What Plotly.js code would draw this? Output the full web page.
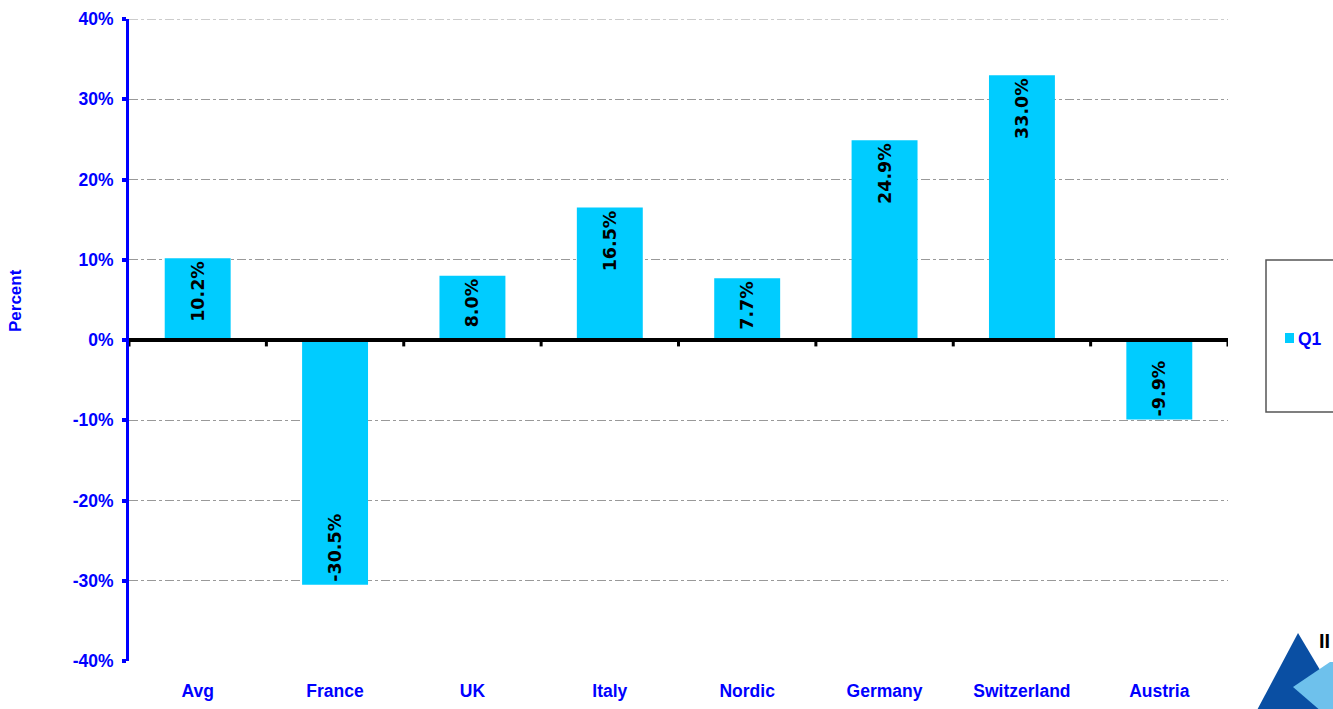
<!DOCTYPE html>
<html>
<head>
<meta charset="utf-8">
<script src="https://cdn.plot.ly/plotly-3.0.1.min.js"></script>
<style>html,body{margin:0;padding:0;background:#fff;}#chart{width:1333px;height:709px;}</style>
</head>
<body>
<div id="chart"></div>
<script>
const categories = ["Avg", "France", "UK", "Italy", "Nordic", "Germany", "Switzerland", "Austria"];
const q1Values = [10.2, -30.5, 8.0, 16.5, 7.7, 24.9, 33.0, -9.9];
const yTickValues = [-40, -30, -20, -10, 0, 10, 20, 30, 40];
const yTickLabels = ["-40%", "-30%", "-20%", "-10%", "0%", "10%", "20%", "30%", "40%"];
const seriesName = "Q1";

const W = 1333, H = 709;
const L = 129, R = 1228, T = 19, B = 661;
const px = x => (x - L) / (R - L);
const py = y => (B - y) / (B - T);
const FONT = "Liberation Sans, Arial, sans-serif";
const WIDEFONT = "DejaVu Sans, Verdana, sans-serif";
const BLUE = "#0000FF";

const shapes = [];
// top gridline (range edge)
shapes.push({type: "line", xref: "paper", yref: "y", x0: 0, x1: 1, y0: 40, y1: 40,
  line: {color: "#999", width: 1, dash: "dashdot"}, layer: "below"});
// zero line
shapes.push({type: "line", xref: "paper", yref: "y", x0: 0, x1: 1, y0: 0, y1: 0,
  line: {color: "#000", width: 4}, layer: "above"});
// category boundary ticks on the zero line
for (let i = 0; i <= categories.length; i++) {
  shapes.push({type: "line", xref: "x", yref: "y", x0: i - 0.5, x1: i - 0.5, y0: 0, y1: -0.8,
    line: {color: "#000", width: 3}, layer: "above"});
}
// legend box (cut off at right edge)
shapes.push({type: "rect", xref: "paper", yref: "paper",
  x0: px(1266), x1: px(1345), y0: py(412), y1: py(260),
  line: {color: "#555", width: 1.5}, fillcolor: "rgba(0,0,0,0)"});
// legend swatch
shapes.push({type: "rect", xref: "paper", yref: "paper",
  x0: px(1285), x1: px(1294), y0: py(343), y1: py(333),
  line: {width: 0}, fillcolor: "#00CCFF"});
// logo
shapes.push({type: "path", xref: "paper", yref: "paper",
  path: `M ${px(1298)} ${py(633)} L ${px(1256)} ${py(712)} L ${px(1345)} ${py(712)} Z`,
  fillcolor: "#0A4FA3", line: {width: 0}});
shapes.push({type: "path", xref: "paper", yref: "paper",
  path: `M ${px(1293)} ${py(687)} L ${px(1330)} ${py(662)} L ${px(1345)} ${py(662)} L ${px(1345)} ${py(712)} L ${px(1322)} ${py(712)} Z`,
  fillcolor: "#6EC1EC", line: {width: 0}});

const trace = {
  type: "bar",
  name: seriesName,
  x: categories,
  y: q1Values,
  marker: {color: "#00CCFF", line: {width: 0}},
  width: 0.48,
  text: q1Values.map(v => v.toFixed(1) + "%"),
  textposition: "inside",
  insidetextanchor: "end",
  textangle: -90,
  textfont: {family: WIDEFONT, size: 17.5, color: "#000", weight: "bold"},
  constraintext: "none",
  hoverinfo: "x+y",
  showlegend: false
};

const layout = {
  width: W, height: H,
  paper_bgcolor: "#fff", plot_bgcolor: "#fff",
  margin: {l: L, r: W - R, t: T, b: H - B, pad: 0},
  showlegend: false,
  xaxis: {
    type: "category", range: [-0.5, categories.length - 0.5],
    showgrid: false, zeroline: false, showline: false, ticks: "",
    tickfont: {family: FONT, size: 17.5, color: BLUE, weight: "bold"},
    ticklabelstandoff: 17, fixedrange: true
  },
  yaxis: {
    range: [-40, 40], tickvals: yTickValues, ticktext: yTickLabels,
    showgrid: true, gridcolor: "#999", griddash: "dashdot", gridwidth: 1,
    zeroline: false, showline: true, linecolor: BLUE, linewidth: 3,
    ticks: "outside", ticklen: 4, tickwidth: 4, tickcolor: BLUE,
    tickfont: {family: FONT, size: 17.5, color: BLUE, weight: "bold"},
    ticklabelstandoff: 5,
    fixedrange: true
  },
  shapes: shapes,
  annotations: [
    {xref: "paper", yref: "paper", x: px(1296), y: py(339), xanchor: "left", yanchor: "middle",
      text: seriesName, showarrow: false, font: {family: FONT, size: 17.5, color: BLUE, weight: "bold"}},
    {xref: "paper", yref: "paper", x: px(15), y: py(300), xanchor: "center", yanchor: "middle",
      text: "Percent", textangle: -90, showarrow: false,
      font: {family: FONT, size: 17, color: BLUE, weight: "bold"}},
    {xref: "paper", yref: "paper", x: px(1317), y: py(641), xanchor: "left", yanchor: "middle",
      text: "II", showarrow: false, font: {family: FONT, size: 20, color: "#000", weight: "bold"}}
  ]
};

Plotly.newPlot("chart", [trace], layout, {displayModeBar: false, staticPlot: true});
</script>
</body>
</html>
